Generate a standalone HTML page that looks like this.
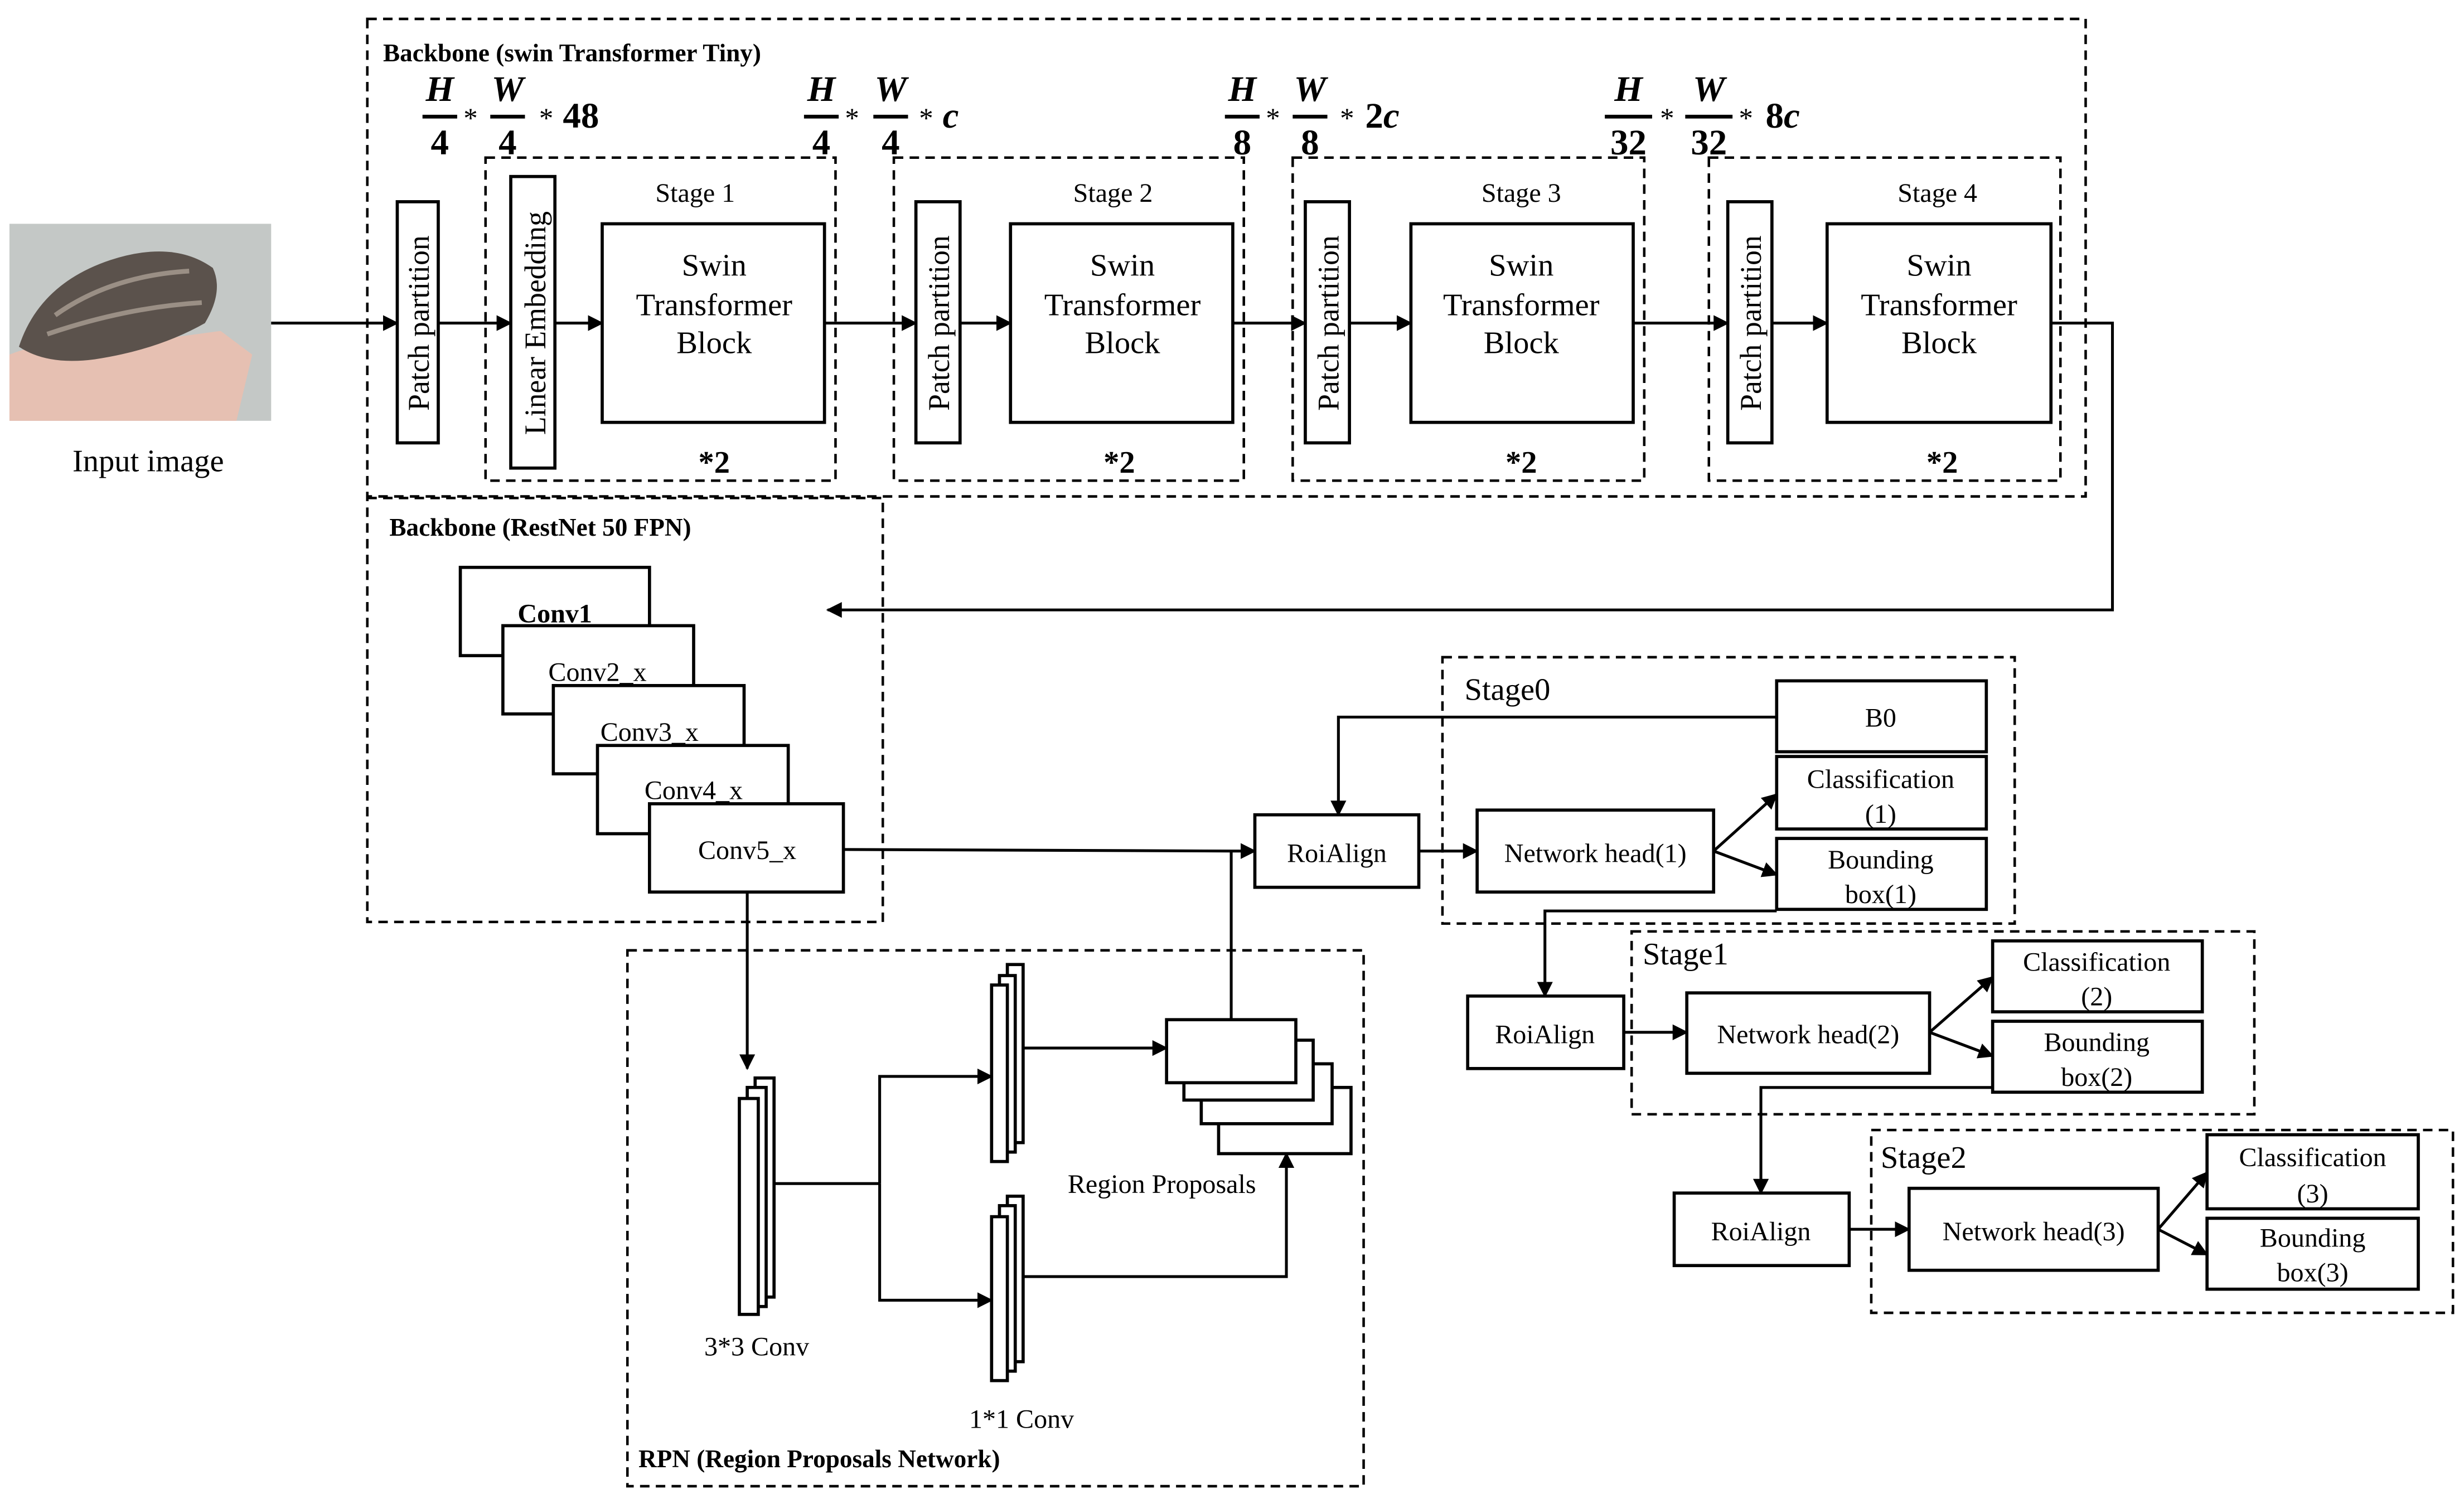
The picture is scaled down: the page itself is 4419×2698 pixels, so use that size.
<!DOCTYPE html>
<html><head><meta charset="utf-8"><style>html,body{margin:0;padding:0;background:#fff}svg{display:block}</style></head>
<body>
<svg width="4419" height="2698" viewBox="0 0 1563 954.3" preserveAspectRatio="none" xmlns="http://www.w3.org/2000/svg" font-family="Liberation Serif, serif">
<defs><marker id="a" markerWidth="10" markerHeight="10" refX="9" refY="5" orient="auto" markerUnits="userSpaceOnUse"><path d="M0,0 L10,5 L0,10 z" fill="#000"/></marker></defs>
<g fill="none" stroke="#000" stroke-width="1.6" stroke-dasharray="6,4">
<rect x="233" y="12" width="1090" height="303"/>
<rect x="308" y="100" width="222" height="205"/>
<rect x="567" y="100" width="222" height="205"/>
<rect x="820" y="100" width="223" height="205"/>
<rect x="1084" y="100" width="223" height="205"/>
<rect x="233" y="316" width="327" height="269"/>
<rect x="915" y="417" width="363" height="169"/>
<rect x="1035" y="591" width="395" height="116"/>
<rect x="1187" y="717" width="369" height="116"/>
<rect x="398" y="603" width="467" height="340"/>
</g>
<g font-weight="bold" font-size="16">
<text x="243" y="39">Backbone (swin Transformer Tiny)</text>
<text x="247" y="340">Backbone (RestNet 50 FPN)</text>
<text x="405" y="931">RPN (Region Proposals  Network)</text>
</g>
<g font-weight="bold" font-size="23" text-anchor="middle">
<g font-style="italic"><text x="279" y="64">H</text><text x="322" y="64">W</text>
<text x="521" y="64">H</text><text x="565" y="64">W</text>
<text x="788" y="64">H</text><text x="831" y="64">W</text>
<text x="1033" y="64">H</text><text x="1084" y="64">W</text></g>
<text x="279" y="98">4</text><text x="322" y="98">4</text>
<text x="521" y="98">4</text><text x="565" y="98">4</text>
<text x="788" y="98">8</text><text x="831" y="98">8</text>
<text x="1033" y="98">32</text><text x="1084" y="98">32</text>
</g>
<g stroke="#000" stroke-width="2.4">
<line x1="268" y1="74" x2="290" y2="74"/><line x1="311" y1="74" x2="333" y2="74"/>
<line x1="510" y1="74" x2="532" y2="74"/><line x1="554" y1="74" x2="576" y2="74"/>
<line x1="777" y1="74" x2="799" y2="74"/><line x1="820" y1="74" x2="842" y2="74"/>
<line x1="1018" y1="74" x2="1048" y2="74"/><line x1="1069" y1="74" x2="1099" y2="74"/>
</g>
<g font-size="18">
<text x="294" y="81">*</text><text x="342" y="81">*</text><text x="536" y="81">*</text><text x="583" y="81">*</text>
<text x="803" y="81">*</text><text x="850" y="81">*</text><text x="1053" y="81">*</text><text x="1103" y="81">*</text>
</g>
<g font-weight="bold" font-size="23"><text x="357" y="81">48</text><text x="598" y="81" font-style="italic">c</text><text x="866" y="81">2<tspan font-style="italic">c</tspan></text><text x="1120" y="81">8<tspan font-style="italic">c</tspan></text></g>
<g fill="#fff" stroke="#000" stroke-width="2">
<rect x="252" y="128" width="26" height="153"/><rect x="324" y="112" width="28" height="185"/>
<rect x="382" y="142" width="141" height="126"/>
<rect x="581" y="128" width="28" height="153"/><rect x="641" y="142" width="141" height="126"/>
<rect x="828" y="128" width="28" height="153"/><rect x="895" y="142" width="141" height="126"/>
<rect x="1096" y="128" width="28" height="153"/><rect x="1159" y="142" width="142" height="126"/>
</g>
<g font-size="19" text-anchor="middle">
<text transform="translate(272,205) rotate(-90)">Patch partition</text>
<text transform="translate(346,205) rotate(-90)">Linear Embedding</text>
<text transform="translate(602,205) rotate(-90)">Patch partition</text>
<text transform="translate(849,205) rotate(-90)">Patch partition</text>
<text transform="translate(1117,205) rotate(-90)">Patch partition</text>
</g>
<g font-size="20" text-anchor="middle">
<text x="453" y="175">Swin</text><text x="453" y="200">Transformer</text><text x="453" y="224">Block</text>
<text x="712" y="175">Swin</text><text x="712" y="200">Transformer</text><text x="712" y="224">Block</text>
<text x="965" y="175">Swin</text><text x="965" y="200">Transformer</text><text x="965" y="224">Block</text>
<text x="1230" y="175">Swin</text><text x="1230" y="200">Transformer</text><text x="1230" y="224">Block</text>
</g>
<g font-size="17" text-anchor="middle"><text x="441" y="128">Stage 1</text><text x="706" y="128">Stage 2</text><text x="965" y="128">Stage 3</text><text x="1229" y="128">Stage 4</text></g>
<g font-size="20" font-weight="bold" text-anchor="middle"><text x="453" y="300">*2</text><text x="710" y="300">*2</text><text x="965" y="300">*2</text><text x="1232" y="300">*2</text></g>
<rect x="6" y="142" width="166" height="125" fill="#c4c8c6"/>
<path d="M6,267 L6,225 Q30,215 60,222 Q100,215 140,210 L160,225 L150,267z" fill="#e6c0b2"/>
<path d="M12,220 Q25,180 70,165 Q110,152 135,170 Q142,185 130,205 Q100,222 60,228 Q30,232 12,220z" fill="#5b524c"/>
<path d="M35,200 Q70,175 120,172 M30,212 Q80,195 128,192" stroke="#9a8f85" stroke-width="3" fill="none"/>
<text x="94" y="299" font-size="20" text-anchor="middle">Input image</text>
<g stroke="#000" stroke-width="1.8" fill="none" marker-end="url(#a)">
<line x1="172" y1="205" x2="252" y2="205"/><line x1="278" y1="205" x2="324" y2="205"/><line x1="352" y1="205" x2="382" y2="205"/>
<line x1="523" y1="205" x2="581" y2="205"/><line x1="609" y1="205" x2="641" y2="205"/>
<line x1="782" y1="205" x2="828" y2="205"/><line x1="856" y1="205" x2="895" y2="205"/>
<line x1="1036" y1="205" x2="1096" y2="205"/><line x1="1124" y1="205" x2="1159" y2="205"/>
<polyline points="1301,205 1340,205 1340,387 525,387"/>
<polyline points="535,539 781,540 796,540"/>
<line x1="900" y1="540" x2="937" y2="540"/>
<polyline points="1127,455 849,455 849,517"/>
<line x1="1087" y1="540" x2="1127" y2="504"/><line x1="1087" y1="540" x2="1127" y2="555"/>
<polyline points="1127,578 980,578 980,632"/>
<line x1="1030" y1="655" x2="1070" y2="655"/>
<line x1="1224" y1="655" x2="1264" y2="620"/><line x1="1224" y1="655" x2="1264" y2="670"/>
<polyline points="1264,690 1117,690 1117,757"/>
<line x1="1173" y1="780" x2="1211" y2="780"/>
<line x1="1369" y1="780" x2="1400" y2="744"/><line x1="1369" y1="780" x2="1400" y2="796"/>
<line x1="474" y1="566" x2="474" y2="678"/>
<polyline points="558,751 558,683 629,683"/><polyline points="558,751 558,825 629,825"/>
<line x1="649" y1="665" x2="740" y2="665"/>
<polyline points="649,810 816,810 816,732"/>
</g>
<g stroke="#000" stroke-width="1.8"><line x1="491" y1="751" x2="558" y2="751"/><line x1="781" y1="647" x2="781" y2="540"/></g>
<g fill="#fff" stroke="#000" stroke-width="2">
<rect x="292" y="360" width="120" height="56"/><rect x="319" y="397" width="121" height="56"/>
<rect x="351" y="435" width="121" height="56"/><rect x="379" y="473" width="121" height="56"/>
<rect x="412" y="510" width="123" height="56"/>
<rect x="796" y="517" width="104" height="46"/>
<rect x="1127" y="432" width="133" height="45"/>
<rect x="937" y="514" width="150" height="52"/>
<rect x="1127" y="480" width="133" height="46"/><rect x="1127" y="532" width="133" height="45"/>
<rect x="931" y="632" width="99" height="46"/>
<rect x="1070" y="630" width="154" height="51"/>
<rect x="1264" y="597" width="133" height="45"/><rect x="1264" y="648" width="133" height="45"/>
<rect x="1062" y="757" width="111" height="46"/>
<rect x="1211" y="754" width="158" height="52"/>
<rect x="1400" y="720" width="134" height="47"/><rect x="1400" y="773" width="134" height="45"/>
<rect x="479" y="684" width="12" height="139"/><rect x="474" y="690" width="12" height="139"/><rect x="469" y="697" width="12" height="137"/>
<rect x="639" y="612" width="10" height="113"/><rect x="634" y="619" width="10" height="112"/><rect x="629" y="625" width="10" height="112"/>
<rect x="639" y="759" width="10" height="105"/><rect x="634" y="765" width="10" height="105"/><rect x="629" y="772" width="10" height="104"/>
<rect x="773" y="690" width="84" height="42"/><rect x="762" y="675" width="83" height="38"/><rect x="751" y="660" width="82" height="38"/><rect x="740" y="647" width="82" height="40"/>
</g>
<g font-size="17" text-anchor="middle">
<text x="352" y="395" font-weight="bold">Conv1</text>
<text x="379" y="432">Conv2_x</text><text x="412" y="470">Conv3_x</text><text x="440" y="507">Conv4_x</text><text x="474" y="545">Conv5_x</text>
<text x="848" y="547">RoiAlign</text><text x="980" y="662">RoiAlign</text><text x="1117" y="787">RoiAlign</text>
<text x="1193" y="461">B0</text>
<text x="1012" y="547">Network head(1)</text><text x="1147" y="662">Network head(2)</text><text x="1290" y="787">Network head(3)</text>
<text x="1193" y="500">Classification</text><text x="1193" y="522">(1)</text>
<text x="1193" y="551">Bounding</text><text x="1193" y="573">box(1)</text>
<text x="1330" y="616">Classification</text><text x="1330" y="638">(2)</text>
<text x="1330" y="667">Bounding</text><text x="1330" y="689">box(2)</text>
<text x="1467" y="740">Classification</text><text x="1467" y="763">(3)</text>
<text x="1467" y="791">Bounding</text><text x="1467" y="813">box(3)</text>
<text x="480" y="860">3*3 Conv</text><text x="648" y="906">1*1 Conv</text><text x="737" y="757">Region Proposals</text>
</g>
<g font-size="20"><text x="929" y="444">Stage0</text><text x="1042" y="612">Stage1</text><text x="1193" y="741">Stage2</text></g>
</svg>
</body></html>
